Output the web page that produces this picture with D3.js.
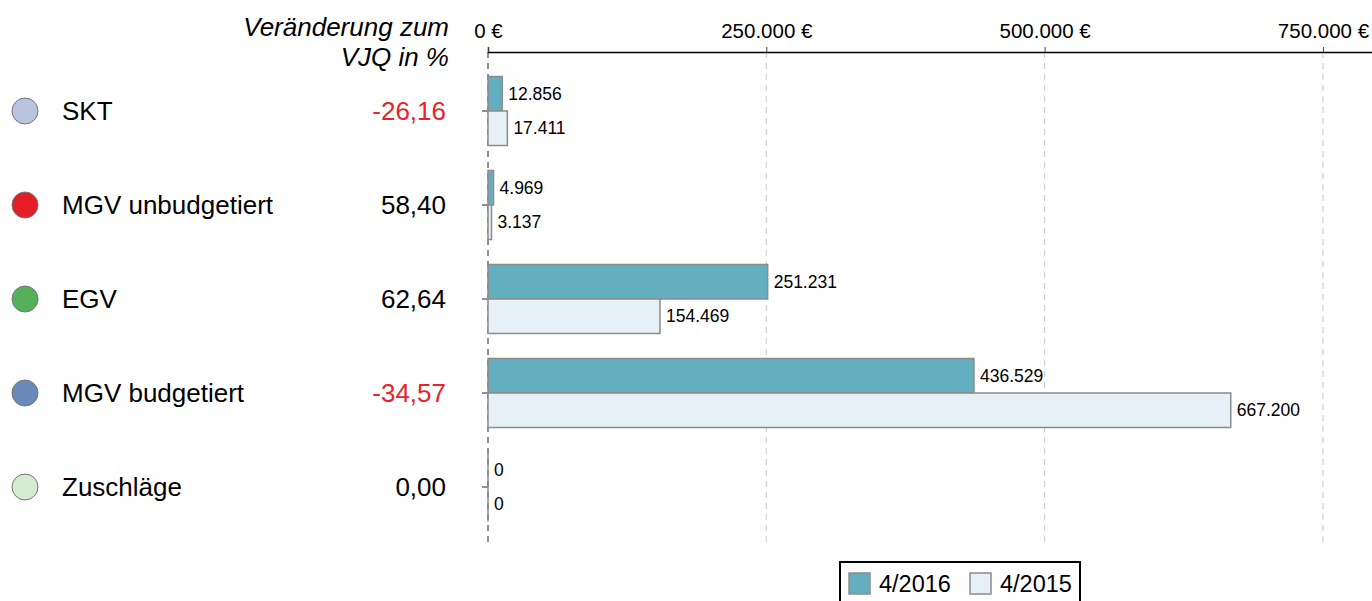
<!DOCTYPE html>
<html><head><meta charset="utf-8">
<script src="https://cdn.jsdelivr.net/npm/d3@7"></script>
<style>body{margin:0;background:#fff}svg{display:block;font-family:"Liberation Sans",Arial,sans-serif}</style>
</head><body>
<svg id="c" width="1372" height="601"></svg>
<script>
const categories = ["SKT","MGV unbudgetiert","EGV","MGV budgetiert","Zuschläge"];
const dotColors = ["#b8c4e0","#e31e26","#55b05c","#6a89b8","#d6ead4"];
const changePct = ["-26,16","58,40","62,64","-34,57","0,00"];
const values2016 = [12856, 4969, 251231, 436529, 0];
const values2015 = [17411, 3137, 154469, 667200, 0];
const seriesNames = ["4/2016","4/2015"];
const seriesColors = ["#64afbf","#e6f0f7"];
const xTicks = [0, 250000, 500000, 750000];

const svg = d3.select("#c");
const fmt = d3.formatLocale({decimal:",", thousands:".", grouping:[3], currency:["","\u00a0€"]});
const numFmt = fmt.format(",d");

const x = d3.scaleLinear().domain([0, 800000]).range([488, 1378.6]);
const y = d3.scaleBand().domain(categories).range([64, 534]).paddingInner(0.266).paddingOuter(0.133);
const sub = d3.scaleBand().domain(seriesNames).range([0, y.bandwidth()]);

// grid
svg.append("g").selectAll("line").data(xTicks.slice(1)).join("line")
  .attr("x1", d => x(d)).attr("x2", d => x(d)).attr("y1", 52).attr("y2", 546)
  .attr("stroke", "#c8c8c8").attr("stroke-dasharray", "6,5");

// top axis
const xAxis = d3.axisTop(x).tickValues(xTicks).tickSize(5).tickPadding(9)
  .tickFormat(d => numFmt(d) + " €");
const gx = svg.append("g").attr("transform", "translate(0,52)").call(xAxis);
gx.select(".domain").attr("stroke", "#000").attr("stroke-width", 1.5);
gx.selectAll(".tick line").attr("stroke", "#444");
gx.selectAll("text").attr("font-size", 20.5).attr("fill", "#000").attr("font-family", "Liberation Sans, Arial, sans-serif");

// left axis
const yAxis = d3.axisLeft(y).tickSize(6).tickFormat("");
const gy = svg.append("g").attr("transform", "translate(488,0)").call(yAxis);
gy.select(".domain").remove();
gy.selectAll(".tick line").attr("stroke", "#222");
svg.append("line").attr("x1", 488).attr("x2", 488).attr("y1", 52).attr("y2", 546)
  .attr("stroke", "#222").attr("stroke-dasharray", "6,5");

// bars
const rows = [];
categories.forEach((c, i) => {
  rows.push({cat: c, s: seriesNames[0], v: values2016[i], col: seriesColors[0]});
  rows.push({cat: c, s: seriesNames[1], v: values2015[i], col: seriesColors[1]});
});
svg.append("g").selectAll("rect").data(rows).join("rect")
  .attr("x", x(0)).attr("y", d => y(d.cat) + sub(d.s))
  .attr("width", d => x(d.v) - x(0)).attr("height", sub.bandwidth())
  .attr("fill", d => d.col).attr("stroke", "#8c8c8c").attr("stroke-width", 1.5);
svg.append("g").selectAll("line").data(rows.filter(d => d.v === 0)).join("line")
  .attr("x1", x(0)).attr("x2", x(0)).attr("y1", d => y(d.cat) + sub(d.s)).attr("y2", d => y(d.cat) + sub(d.s) + sub.bandwidth())
  .attr("stroke", "#8c8c8c").attr("stroke-width", 1.5);
svg.append("g").selectAll("text").data(rows).join("text")
  .attr("x", d => x(d.v) + 6).attr("y", d => y(d.cat) + sub(d.s) + sub.bandwidth() / 2)
  .attr("dy", "0.35em").attr("font-size", 17.5).text(d => numFmt(d.v));

// left panel
const left = svg.append("g");
const cy = d => y(d) + y.bandwidth() / 2;
left.selectAll("circle").data(categories).join("circle")
  .attr("cx", 25).attr("cy", d => cy(d)).attr("r", 13)
  .attr("fill", (d, i) => dotColors[i]).attr("stroke", "#777").attr("stroke-width", 1);
left.selectAll("text.cat").data(categories).join("text").attr("class", "cat")
  .attr("x", 62).attr("y", d => cy(d)).attr("dy", "0.35em").attr("font-size", 26).text(d => d);
left.selectAll("text.pct").data(categories).join("text").attr("class", "pct")
  .attr("x", 446).attr("y", d => cy(d)).attr("dy", "0.35em").attr("font-size", 26)
  .attr("text-anchor", "end").attr("fill", (d, i) => changePct[i].startsWith("-") ? "#e8232a" : "#000")
  .text((d, i) => changePct[i]);
left.append("text").attr("x", 449).attr("y", 36).attr("text-anchor", "end").attr("font-size", 26)
  .attr("font-style", "italic").text("Veränderung zum");
left.append("text").attr("x", 449).attr("y", 66).attr("text-anchor", "end").attr("font-size", 26)
  .attr("font-style", "italic").text("VJQ in %");

// legend
const lg = svg.append("g");
lg.append("rect").attr("x", 840).attr("y", 562).attr("width", 240).attr("height", 50)
  .attr("fill", "#fff").attr("stroke", "#000").attr("stroke-width", 2);
const lx = [849, 970];
seriesNames.forEach((s, i) => {
  lg.append("rect").attr("x", lx[i]).attr("y", 573).attr("width", 21).attr("height", 21)
    .attr("fill", seriesColors[i]).attr("stroke", "#8c8c8c").attr("stroke-width", 1.5);
  lg.append("text").attr("x", lx[i] + 30).attr("y", 584).attr("dy", "0.35em").attr("font-size", 23.5).text(s);
});
</script>
</body></html>
